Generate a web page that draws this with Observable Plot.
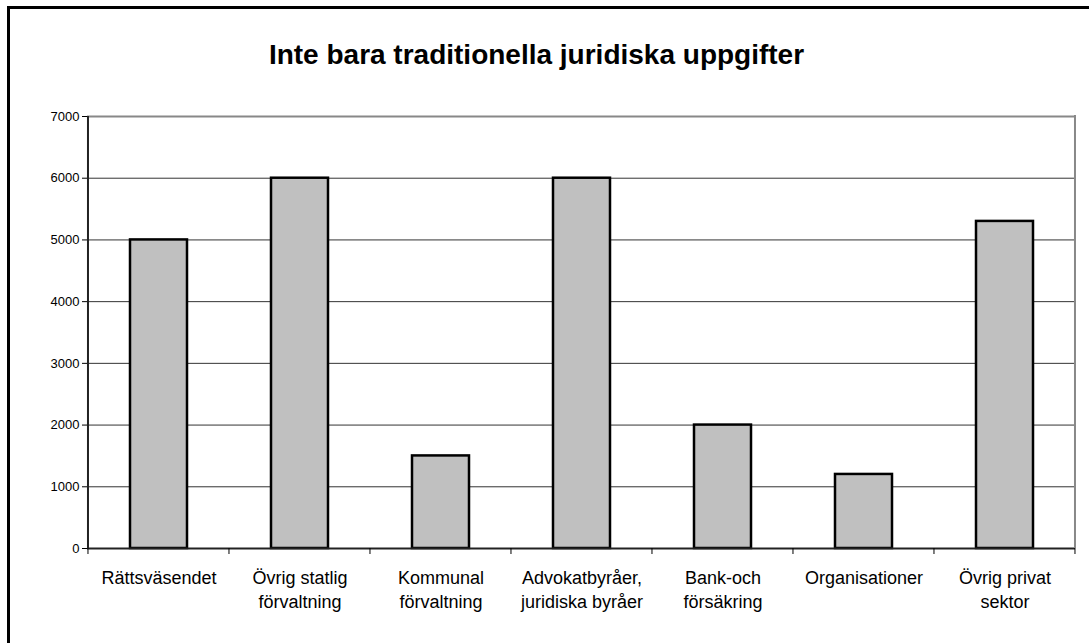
<!DOCTYPE html>
<html>
<head>
<meta charset="utf-8">
<script src="https://cdn.jsdelivr.net/npm/d3@7"></script>
<script src="https://cdn.jsdelivr.net/npm/@observablehq/plot@0.6"></script>
<style>
  html, body { margin: 0; padding: 0; background: #fff; overflow: hidden; }
  body { width: 1089px; height: 643px; position: relative; font-family: "Liberation Sans", Arial, sans-serif; }
  #borderTop { position: absolute; left: 7px; top: 6px; width: 1082px; height: 3px; background: #000; pointer-events: none; }
  #borderLeft { position: absolute; left: 7px; top: 6px; width: 3px; height: 637px; background: #000; pointer-events: none; }
  #title { height: 100px; box-sizing: border-box; padding-top: 41px; padding-right: 16px; line-height: 28px; text-align: center; font-weight: bold; font-size: 28px; color: #000; white-space: nowrap; }
  #chart svg { display: block; }
</style>
</head>
<body>
<div id="borderTop"></div>
<div id="borderLeft"></div>
<div id="title">Inte bara traditionella juridiska uppgifter</div>
<div id="chart"></div>
<script>
const categories = [
  "Rättsväsendet",
  "Övrig statlig\nförvaltning",
  "Kommunal\nförvaltning",
  "Advokatbyråer,\njuridiska byråer",
  "Bank-och\nförsäkring",
  "Organisationer",
  "Övrig privat\nsektor"
];
const values = [5000, 6000, 1500, 6000, 2000, 1200, 5300];
const yTicks = [0, 1000, 2000, 3000, 4000, 5000, 6000, 7000];

const rows = categories.map((c, i) => ({category: c, value: values[i]}));
const padInner = 0.596;

// band-boundary ticks, left axis line and right plot border, derived from the x scale
function bandFrame(index, scales, vals, dims) {
  const x = scales.x, y = scales.y;
  const step = (typeof x.step === "function") ? x.step() : (x(categories[1]) - x(categories[0]));
  const edges = categories.map(c => x(c) - step * padInner / 2);
  edges.push(edges[edges.length - 1] + step);
  const g = d3.create("svg:g");
  const y0 = y(0), yTop = y(7000);
  edges.forEach((e) => {
    g.append("line").attr("x1", e).attr("x2", e).attr("y1", y0).attr("y2", y0 + 6)
      .attr("stroke", "#000").attr("stroke-width", 1);
  });
  g.append("line").attr("x1", edges[0]).attr("x2", edges[0]).attr("y1", yTop).attr("y2", y0)
    .attr("stroke", "#222").attr("stroke-width", 2);
  g.append("line").attr("x1", edges[edges.length - 1]).attr("x2", edges[edges.length - 1]).attr("y1", yTop - 1).attr("y2", y0)
    .attr("stroke", "#888").attr("stroke-width", 2);
  return g.node();
}

const chart = Plot.plot({
  width: 1089,
  height: 543,
  marginLeft: 87,
  marginRight: 14,
  marginTop: 16,
  marginBottom: 95,
  style: {fontFamily: "'Liberation Sans', Arial, sans-serif", background: "transparent", color: "#000"},
  x: {domain: categories, paddingInner: padInner, paddingOuter: padInner / 2},
  y: {domain: [0, 7000]},
  marks: [
    Plot.ruleY(yTicks.slice(1, -1), {stroke: "#333", strokeWidth: 1}),
    Plot.ruleY([7000], {stroke: "#888", strokeWidth: 2}),
    Plot.barY(rows, {x: "category", y: "value", fill: "#C0C0C0", stroke: "#000", strokeWidth: 2.5}),
    Plot.ruleY([0], {stroke: "#222", strokeWidth: 2}),
    Plot.axisY({ticks: yTicks, tickSize: 5, tickPadding: 3, fontSize: 13, tickFormat: d => String(d), label: null, stroke: "#000"}),
    Plot.axisX({tickSize: 0, tickPadding: 19, fontSize: 18, lineHeight: 1.3, label: null}),
    bandFrame
  ]
});
document.getElementById("chart").appendChild(chart);
</script>
</body>
</html>
